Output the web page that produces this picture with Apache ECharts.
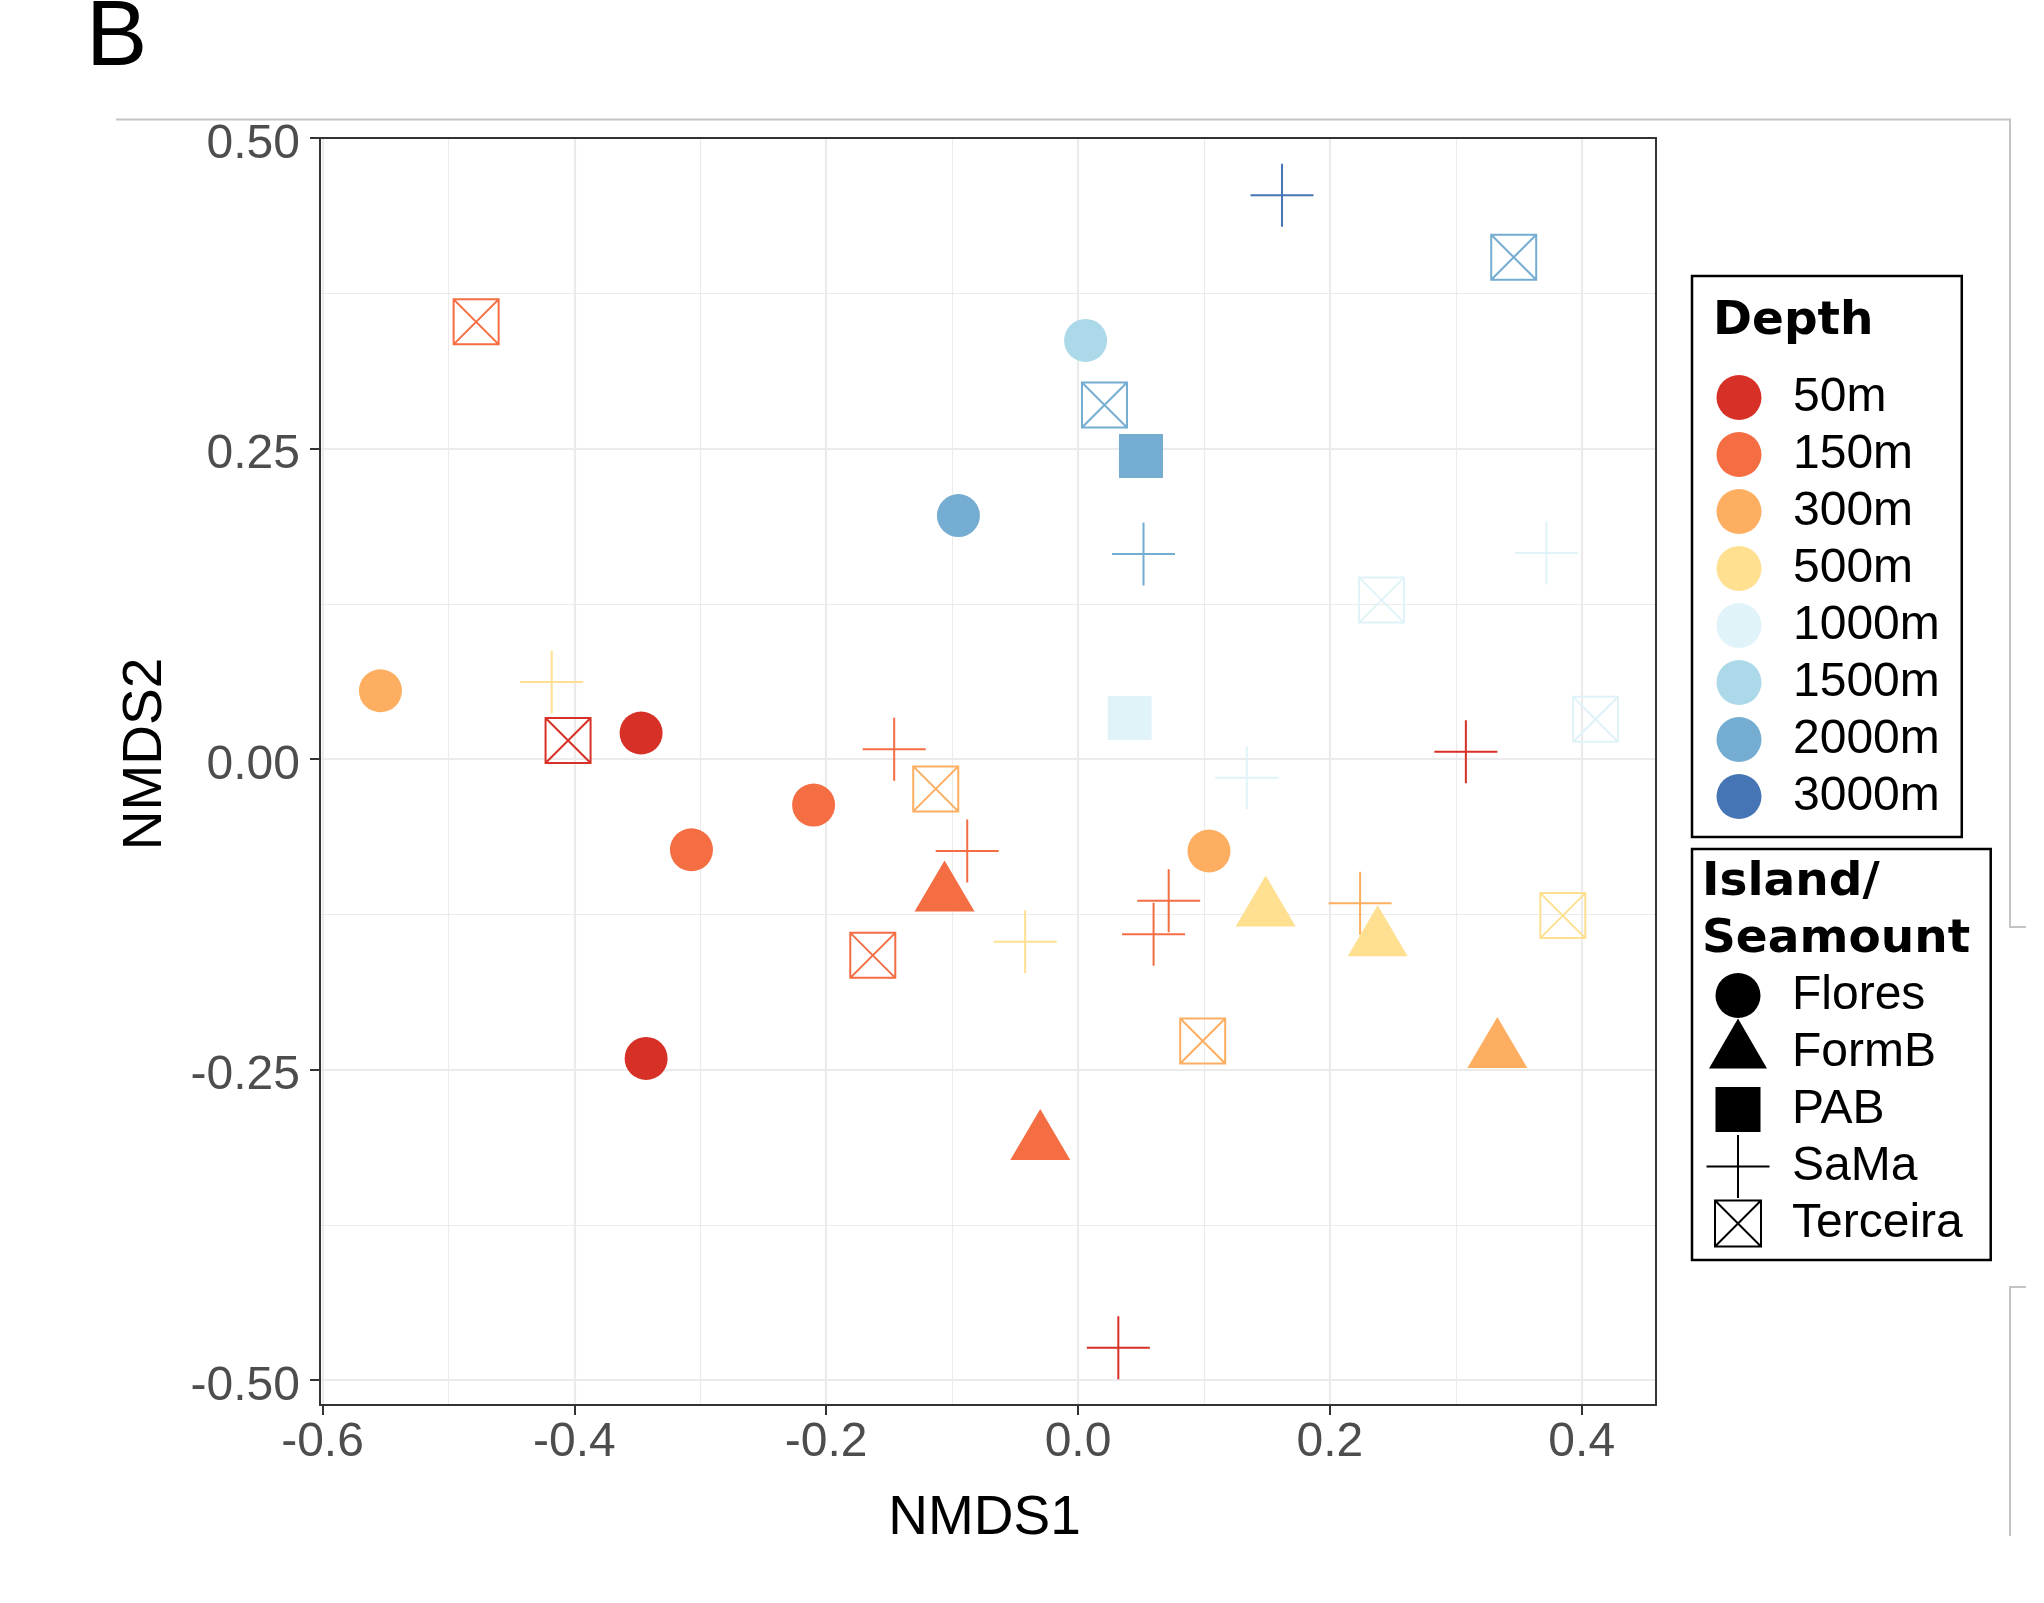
<!DOCTYPE html>
<html>
<head>
<meta charset="utf-8">
<script src="https://cdn.jsdelivr.net/npm/echarts@6/dist/echarts.min.js"></script>
<style>
html,body{margin:0;padding:0;background:#fff;}
#chart{width:2044px;height:1603px;}
</style>
</head>
<body>
<div id="chart"></div>
<script>
// ---- Data ----
const depthLevels = ['50m','150m','300m','500m','1000m','1500m','2000m','3000m'];
const depthColors = ['#D73027','#F46D43','#FDAE61','#FEE090','#E0F3F8','#ABD9E9','#74ADD1','#4575B4'];
const islandNames = ['Flores','FormB','PAB','SaMa','Terceira'];

const floresX = [-0.554, -0.347, -0.343, -0.307, -0.210, 0.006, -0.095, 0.104];
const floresY = [0.055, 0.021, -0.241, -0.073, -0.037, 0.337, 0.196, -0.074];
const floresDepth = ['300m','50m','50m','150m','150m','1500m','2000m','300m'];

const formbX = [-0.106, -0.030, 0.149, 0.238, 0.333];
const formbY = [-0.109, -0.309, -0.121, -0.145, -0.235];
const formbDepth = ['150m','150m','500m','500m','300m'];

const pabX = [0.050, 0.041];
const pabY = [0.244, 0.033];
const pabDepth = ['2000m','1000m'];

const samaX = [0.162, 0.052, 0.372, 0.134, -0.418, -0.146, -0.088, -0.042, 0.072, 0.060, 0.224, 0.308, 0.032];
const samaY = [0.454, 0.165, 0.166, -0.015, 0.062, 0.008, -0.074, -0.147, -0.114, -0.141, -0.116, 0.006, -0.474];
const samaDepth = ['3000m','2000m','1000m','1000m','500m','150m','150m','500m','150m','150m','300m','50m','50m'];

const terceiraX = [-0.478, -0.405, -0.163, -0.113, 0.099, 0.346, 0.021, 0.241, 0.411, 0.385];
const terceiraY = [0.352, 0.015, -0.158, -0.024, -0.227, 0.404, 0.285, 0.128, 0.032, -0.126];
const terceiraDepth = ['150m','50m','150m','300m','300m','2000m','2000m','1000m','1000m','500m'];

const xTicks = [-0.6, -0.4, -0.2, 0.0, 0.2, 0.4];
const xMinorTicks = [-0.5, -0.3, -0.1, 0.1, 0.3];
const yTicks = [-0.5, -0.25, 0.0, 0.25, 0.5];
const yMinorTicks = [-0.375, -0.125, 0.125, 0.375];
const xMin = -0.602, xMax = 0.459;
const yMin = -0.520, yMax = 0.500;

// ---- Symbols ----
const PLUS = 'path://M0,-1 L0,1 M-1,0 L1,0';
const BOXTIMES = 'path://M-1,-1 L1,-1 L1,1 L-1,1 Z M-1,-1 L1,1 M1,-1 L-1,1';
const LEG_CIRCLE = 'path://M-34,-34 M34,34 M22.5,0 A22.5,22.5 0 1 1 -22.5,0 A22.5,22.5 0 1 1 22.5,0 Z';
const LEG_TRI = 'path://M-34,-34 M34,34 M0,-34 L29,16 L-29,16 Z';
const LEG_SQ = 'path://M-34,-34 M34,34 M-22.5,-22.5 L22.5,-22.5 L22.5,22.5 L-22.5,22.5 Z';
const LEG_PLUS = 'path://M-34,-34 M34,34 M0,-31.5 L0,31.5 M-31.5,0 L31.5,0';
const LEG_BOX = 'path://M-34,-34 M34,34 M-23,-23 L23,-23 L23,23 L-23,23 Z M-23,-23 L23,23 M23,-23 L-23,23';

function colorOf(d) { return depthColors[depthLevels.indexOf(d)]; }
function buildData(xs, ys, ds, stroked) {
  return xs.map(function (x, i) {
    const c = colorOf(ds[i]);
    return {
      value: [x, ys[i]],
      itemStyle: stroked
        ? { color: 'rgba(0,0,0,0)', borderColor: c, borderWidth: 2, opacity: 1 }
        : { color: c, opacity: 1, borderWidth: 0 }
    };
  });
}

const FONT = 'Liberation Sans';

const series = [];
depthLevels.forEach(function (d, i) {
  series.push({ name: d, type: 'scatter', data: [], itemStyle: { color: depthColors[i], opacity: 1 } });
});
series.push({ name: 'Flores', type: 'scatter', symbol: 'circle', symbolSize: 43,
  itemStyle: { color: '#000', opacity: 1 }, data: buildData(floresX, floresY, floresDepth, false) });
series.push({ name: 'PAB', type: 'scatter', symbol: 'rect', symbolSize: 44,
  itemStyle: { color: '#000', opacity: 1 }, data: buildData(pabX, pabY, pabDepth, false) });
series.push({ name: 'SaMa', type: 'scatter', symbol: PLUS, symbolSize: 63,
  itemStyle: { color: 'rgba(0,0,0,0)', borderColor: '#000', borderWidth: 2, opacity: 1 },
  data: buildData(samaX, samaY, samaDepth, true) });
series.push({ name: 'Terceira', type: 'scatter', symbol: BOXTIMES, symbolSize: 45,
  itemStyle: { color: 'rgba(0,0,0,0)', borderColor: '#000', borderWidth: 2, opacity: 1 },
  data: buildData(terceiraX, terceiraY, terceiraDepth, true) });
series.push({ name: 'FormB', type: 'scatter', symbol: 'triangle', symbolSize: [60, 51], symbolOffset: [0, -8.5],
  itemStyle: { color: '#000', opacity: 1 }, data: buildData(formbX, formbY, formbDepth, false) });

const islandIcons = [LEG_CIRCLE, LEG_TRI, LEG_SQ, LEG_PLUS, LEG_BOX];
const islandStroked = [false, false, false, true, true];

const chart = echarts.init(document.getElementById('chart'), null, { renderer: 'canvas' });
chart.setOption({
  animation: false,
  backgroundColor: '#fff',
  grid: { left: 320, top: 138, width: 1336, height: 1267, show: false, containLabel: false, outerBoundsMode: 'none' },
  xAxis: [
    {
      type: 'value', min: xMin, max: xMax, position: 'bottom',
      axisLine: { show: true, onZero: false, lineStyle: { color: '#333', width: 2 } },
      axisTick: { show: true, length: 10, customValues: xTicks, lineStyle: { color: '#333', width: 2 } },
      axisLabel: { show: true, customValues: xTicks, margin: 14, color: '#4D4D4D', fontSize: 48, lineHeight: 48,
        fontFamily: FONT, formatter: function (v) { return v.toFixed(1); } },
      splitLine: { show: true, lineStyle: { color: '#EBEBEB', width: 2.2 } },
      name: 'NMDS1', nameLocation: 'middle', nameGap: 86,
      nameTextStyle: { fontSize: 55, lineHeight: 55, fontFamily: FONT, color: '#000', padding: [0, 7, 0, 0] }
    },
    {
      type: 'value', min: xMin, max: xMax, position: 'top',
      axisLine: { show: true, onZero: false, lineStyle: { color: '#333', width: 2 } },
      axisTick: { show: false, customValues: xMinorTicks },
      axisLabel: { show: false },
      splitLine: { show: true, lineStyle: { color: '#EBEBEB', width: 1.1 } }
    }
  ],
  yAxis: [
    {
      type: 'value', min: yMin, max: yMax, position: 'left',
      axisLine: { show: true, onZero: false, lineStyle: { color: '#333', width: 2 } },
      axisTick: { show: true, length: 10, customValues: yTicks, lineStyle: { color: '#333', width: 2 } },
      axisLabel: { show: true, customValues: yTicks, margin: 20, color: '#4D4D4D', fontSize: 48, lineHeight: 13,
        verticalAlign: 'top', fontFamily: FONT, formatter: function (v) { return v.toFixed(2); } },
      splitLine: { show: true, lineStyle: { color: '#EBEBEB', width: 2.2 } },
      name: 'NMDS2', nameLocation: 'middle', nameGap: 146.8,
      nameTextStyle: { fontSize: 55, lineHeight: 55, fontFamily: FONT, color: '#000', padding: [0, 0, 0, 35] }
    },
    {
      type: 'value', min: yMin, max: yMax, position: 'right',
      axisLine: { show: true, onZero: false, lineStyle: { color: '#333', width: 2 } },
      axisTick: { show: false, customValues: yMinorTicks },
      axisLabel: { show: false },
      splitLine: { show: true, lineStyle: { color: '#EBEBEB', width: 1.1 } }
    }
  ],
  legend: [
    {
      orient: 'vertical', left: 1692, top: 276, padding: [97.5, 22, 16.5, 24.5],
      itemWidth: 45, itemHeight: 45, itemGap: 9, selectedMode: false,
      borderColor: '#000', borderWidth: 2.5, backgroundColor: 'transparent',
      textStyle: { fontFamily: FONT, fontSize: 48, lineHeight: 45, color: '#000', padding: [0, 0, 0, 26.5] },
      data: depthLevels.map(function (d, i) {
        return { name: d, icon: 'circle', itemStyle: { color: depthColors[i], borderWidth: 0, opacity: 1 } };
      })
    },
    {
      orient: 'vertical', left: 1692, top: 849, padding: [110, 28, 0, 9.5],
      itemWidth: 68, itemHeight: 68, itemGap: -16, selectedMode: false,
      borderColor: '#000', borderWidth: 2.5, backgroundColor: 'transparent',
      textStyle: { fontFamily: FONT, fontSize: 48, lineHeight: 48, color: '#000', padding: [0, 0, 0, 15] },
      data: islandNames.map(function (n, i) {
        return {
          name: n, icon: islandIcons[i],
          itemStyle: islandStroked[i]
            ? { color: 'none', borderColor: '#000', borderWidth: 2, opacity: 1 }
            : { color: '#000', borderColor: 'rgba(0,0,0,0)', borderWidth: 5, opacity: 1 }
        };
      })
    }
  ],
  graphic: [
    { type: 'text', x: 86, y: 40, z: 100,
      style: { text: 'B', fontSize: 92, fontFamily: FONT, fill: '#000', verticalAlign: 'middle', align: 'left' } },
    { type: 'text', x: 1713, y: 322, z: 100,
      style: { text: 'Depth', fontSize: 47, fontWeight: 'bold', fontFamily: 'DejaVu Sans', fill: '#000', verticalAlign: 'middle', align: 'left' } },
    { type: 'text', x: 1702, y: 883, z: 100,
      style: { text: 'Island/', fontSize: 47, fontWeight: 'bold', fontFamily: 'DejaVu Sans', fill: '#000', verticalAlign: 'middle', align: 'left' } },
    { type: 'text', x: 1702, y: 940, z: 100,
      style: { text: 'Seamount', fontSize: 47, fontWeight: 'bold', fontFamily: 'DejaVu Sans', fill: '#000', verticalAlign: 'middle', align: 'left' } },
    { type: 'polyline', z: 1, silent: true,
      shape: { points: [[116, 119.5], [2010, 119.5], [2010, 927], [2026, 927]] },
      style: { stroke: '#C4C4C4', lineWidth: 2, fill: null } },
    { type: 'polyline', z: 1, silent: true,
      shape: { points: [[2026, 1287], [2010, 1287], [2010, 1536]] },
      style: { stroke: '#C4C4C4', lineWidth: 2, fill: null } }
  ],
  series: series
});
</script>
</body>
</html>
